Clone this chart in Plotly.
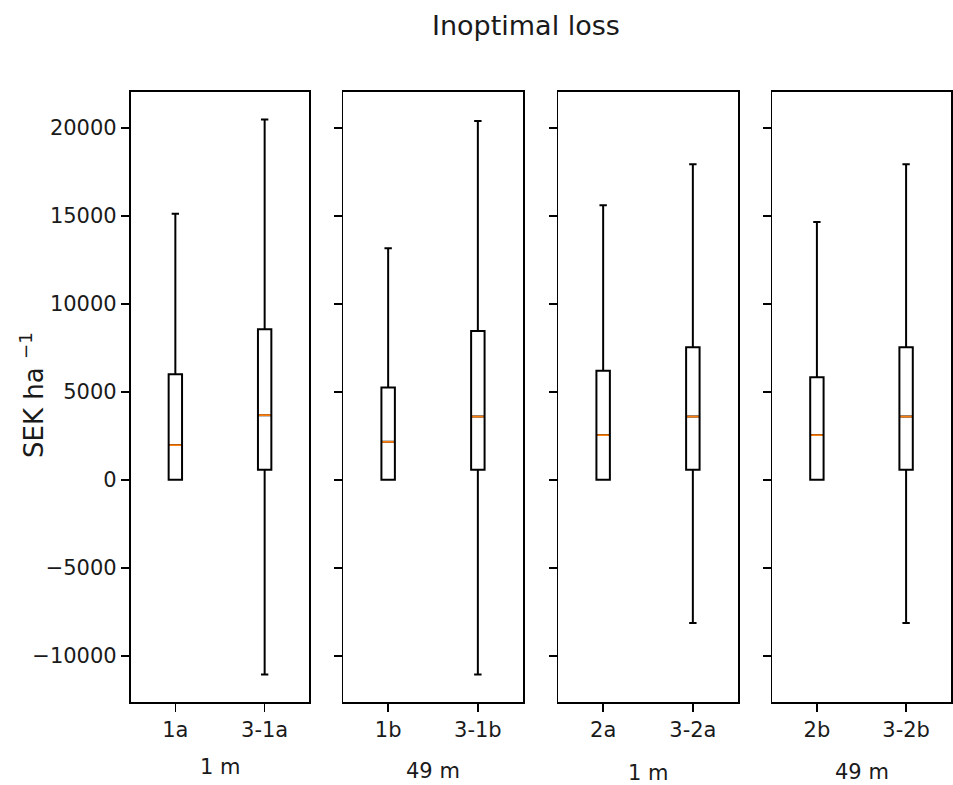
import plotly.graph_objects as go

# ---- data ----
panel_labels = [["1a", "3-1a"], ["1b", "3-1b"], ["2a", "3-2a"], ["2b", "3-2b"]]
panel_titles = ["1 m", "49 m", "1 m", "49 m"]
lower_whisker = [[0, -11070], [0, -11070], [0, -8140], [0, -8140]]
q1_vals = [[0, 570], [0, 570], [0, 570], [0, 570]]
median_vals = [[1970, 3670], [2160, 3595], [2540, 3595], [2540, 3595]]
q3_vals = [[6000, 8560], [5240, 8460], [6190, 7535], [5830, 7535]]
upper_whisker = [[15120, 20480], [13160, 20390], [15600, 17940], [14650, 17940]]
positions = [1, 2]
box_width = 0.15

W, H = 953, 785
FONT = "DejaVu Sans"

fig = go.Figure()

# panel pixel extents
x_px = [(130.7, 309.3), (343.3, 522.7), (558.3, 737.7), (772.3, 950.7)]
y_top_px, y_bot_px = 91.7, 702.3
ydom = [1 - y_bot_px / H, 1 - y_top_px / H]

all_lo = min(min(v) for v in lower_whisker)
all_hi = max(max(v) for v in upper_whisker)
pad = 0.05 * (all_hi - all_lo)
yrange = [all_lo - pad, all_hi + pad]

for i in range(4):
    xa = "x" if i == 0 else f"x{i+1}"
    ya = "y" if i == 0 else f"y{i+1}"
    fig.add_trace(go.Box(
        x=positions,
        q1=q1_vals[i], median=median_vals[i], q3=q3_vals[i],
        lowerfence=lower_whisker[i], upperfence=upper_whisker[i],
        width=box_width, whiskerwidth=0.55,
        line=dict(color="black", width=2),
        fillcolor="rgba(0,0,0,0)",
        boxpoints=False,
        xaxis=xa, yaxis=ya, showlegend=False, hoverinfo="skip",
    ))
    for p, m in zip(positions, median_vals[i]):
        fig.add_trace(go.Scatter(
            x=[p - box_width / 2 + 0.012, p + box_width / 2 - 0.012], y=[m, m],
            mode="lines", line=dict(color="#ff7f0e", width=1.8),
            xaxis=xa, yaxis=ya, showlegend=False, hoverinfo="skip",
        ))
    ax_key = "xaxis" if i == 0 else f"xaxis{i+1}"
    ay_key = "yaxis" if i == 0 else f"yaxis{i+1}"
    fig.layout[ax_key] = dict(
        domain=[x_px[i][0] / W, x_px[i][1] / W], anchor=ya,
        range=[0.5, 2.5], tickvals=positions, ticktext=panel_labels[i],
        showline=True, mirror=True, linecolor="black", linewidth=1.8,
        ticks="outside", ticklen=8, tickwidth=1.6, tickcolor="black",
        showgrid=False, zeroline=False, fixedrange=True,
        tickfont=dict(family=FONT, size=21, color="#1a1a1a"),
    )
    fig.layout[ay_key] = dict(
        domain=ydom, anchor=xa, range=yrange,
        tickvals=[-10000, -5000, 0, 5000, 10000, 15000, 20000],
        tickformat="d",
        showticklabels=(i == 0),
        showline=True, mirror=True, linecolor="black", linewidth=1.8,
        ticks="outside", ticklen=8, tickwidth=1.6, tickcolor="black",
        showgrid=False, zeroline=False, fixedrange=True,
        tickfont=dict(family=FONT, size=21, color="#1a1a1a"),
    )

annotations = []
label_y_px = [767, 771, 773, 772]
for i in range(4):
    annotations.append(dict(
        text=panel_titles[i], xref="paper", yref="paper",
        x=(x_px[i][0] + x_px[i][1]) / 2 / W, y=1 - label_y_px[i] / H,
        xanchor="center", yanchor="middle", showarrow=False,
        font=dict(family=FONT, size=21, color="#1a1a1a"),
    ))
annotations.append(dict(
    text="SEK ha <sup>−1</sup>", xref="paper", yref="paper",
    x=32 / W, y=1 - 395 / H, textangle=-90,
    xanchor="center", yanchor="middle", showarrow=False,
    font=dict(family=FONT, size=26, color="#1a1a1a"),
))
annotations.append(dict(
    text="Inoptimal loss", xref="paper", yref="paper",
    x=526 / W, y=1 - 26 / H,
    xanchor="center", yanchor="middle", showarrow=False,
    font=dict(family=FONT, size=27, color="#1a1a1a"),
))

fig.update_layout(
    width=W, height=H,
    margin=dict(l=0, r=0, t=0, b=0),
    paper_bgcolor="white", plot_bgcolor="white",
    annotations=annotations,
    showlegend=False,
)

fig.write_html(
    "out.html",
    config={"displayModeBar": False, "staticPlot": True},
    post_script="document.body.style.margin='0px';document.body.style.overflow='hidden';",
)
